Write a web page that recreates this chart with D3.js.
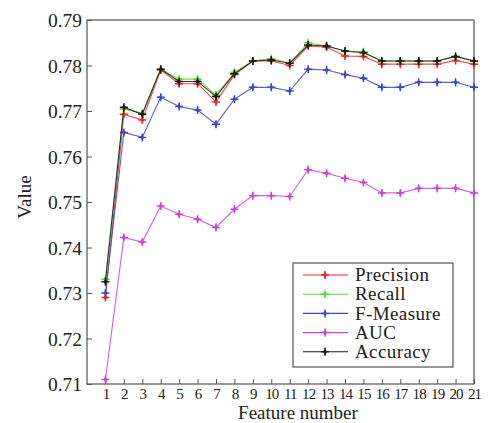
<!DOCTYPE html>
<head>
    <meta charset="utf-8">
    <script src="https://d3js.org/d3.v7.min.js"></script>
    <style>
        body { margin: 0; background: #fff; }
        text { font-family: "Liberation Serif", "Times New Roman", serif; fill: #222; }
    </style>
</head>
<body>
<svg width="488" height="423"></svg>
<script>
    var features = d3.range(1, 22);
    var yTicks = [0.71, 0.72, 0.73, 0.74, 0.75, 0.76, 0.77, 0.78, 0.79];

    var precision = [0.729, 0.7693, 0.768, 0.779, 0.776, 0.776, 0.772, 0.778, 0.781, 0.781, 0.780, 0.7843, 0.784, 0.7821, 0.782, 0.7803, 0.7803, 0.7803, 0.7803, 0.7811, 0.7803];
    var recall = [0.733, 0.7705, 0.7695, 0.7792, 0.777, 0.777, 0.7735, 0.7785, 0.781, 0.7815, 0.7805, 0.785, 0.7843, 0.7832, 0.783, 0.781, 0.781, 0.781, 0.781, 0.782, 0.781];
    var fmeasure = [0.730, 0.7653, 0.7642, 0.773, 0.771, 0.7702, 0.7671, 0.7726, 0.7752, 0.7752, 0.7744, 0.7792, 0.779, 0.778, 0.7772, 0.7752, 0.7752, 0.7763, 0.7763, 0.7763, 0.7752];
    var auc = [0.711, 0.7422, 0.7412, 0.7491, 0.7473, 0.7462, 0.7444, 0.7484, 0.7514, 0.7514, 0.7512, 0.7571, 0.7563, 0.7552, 0.7543, 0.752, 0.752, 0.753, 0.753, 0.753, 0.752];
    var accuracy = [0.7325, 0.7708, 0.7693, 0.7792, 0.7765, 0.7765, 0.7732, 0.7782, 0.781, 0.7812, 0.7805, 0.7845, 0.7843, 0.7832, 0.7828, 0.781, 0.781, 0.781, 0.781, 0.782, 0.781];

    var series = [
        {name: "Precision", values: precision, color: "#f0262b"},
        {name: "Recall", values: recall, color: "#55dd2a"},
        {name: "F-Measure", values: fmeasure, color: "#3a48c8"},
        {name: "AUC", values: auc, color: "#cc44d6"},
        {name: "Accuracy", values: accuracy, color: "#1a1a1a"}
    ];

    var svg = d3.select("svg"),
        pLeft = 87, pRight = 474, pTop = 20, pBottom = 384;

    var x = d3.scaleLinear().domain([0, 21]).range([pLeft, pRight]);
    var y = d3.scaleLinear().domain([0.71, 0.79]).range([pBottom, pTop]);

    // axes (ticks pointing inward, matlab style)
    svg.append("g")
        .attr("transform", "translate(0," + pBottom + ")")
        .call(d3.axisBottom(x).tickValues(features).tickSize(-5).tickPadding(4).tickFormat(d3.format("d")))
        .call(function (g) {
            g.select(".domain").remove();
            g.selectAll("line").attr("stroke", "#555");
            g.selectAll("text").attr("font-size", 15).attr("letter-spacing", -0.9).style("fill", "#222");
        });

    svg.append("g")
        .attr("transform", "translate(" + pLeft + ",0)")
        .call(d3.axisLeft(y).tickValues(yTicks).tickSize(-5).tickPadding(5).tickFormat(d3.format(".2f")))
        .call(function (g) {
            g.select(".domain").remove();
            g.selectAll("line").attr("stroke", "#555");
            g.selectAll("text").attr("font-size", 19.5).attr("dy", "0.34em").style("fill", "#222");
        });

    svg.append("rect")
        .attr("x", pLeft).attr("y", pTop)
        .attr("width", pRight - pLeft).attr("height", pBottom - pTop)
        .attr("fill", "none").attr("stroke", "#555").attr("stroke-width", 1.2);

    var line = d3.line()
        .x(function (d, i) { return x(features[i]); })
        .y(function (d) { return y(d); });

    function marker(sel, color) {
        sel.append("path")
            .attr("d", "M-4,0H4M0,-4V4")
            .attr("stroke", color).attr("stroke-width", 1.5);
        sel.append("path")
            .attr("d", d3.symbol(d3.symbolDiamond, 12))
            .attr("fill", color);
    }

    series.forEach(function (s) {
        var g = svg.append("g");
        g.append("path")
            .datum(s.values)
            .attr("d", line)
            .attr("fill", "none")
            .attr("stroke", s.color)
            .attr("stroke-width", 1.1)
            .attr("stroke-opacity", 0.85);
        g.selectAll("g")
            .data(s.values)
            .enter().append("g")
            .attr("transform", function (d, i) { return "translate(" + x(features[i]) + "," + y(d) + ")"; })
            .call(marker, s.color);
    });

    // legend
    var lg = svg.append("g").attr("transform", "translate(293,263)");
    lg.append("rect")
        .attr("width", 160).attr("height", 104)
        .attr("fill", "#fff").attr("stroke", "#555").attr("stroke-width", 1.2);
    series.forEach(function (s, i) {
        var row = lg.append("g").attr("transform", "translate(0," + (12 + i * 19.2) + ")");
        row.append("line")
            .attr("x1", 10).attr("x2", 55)
            .attr("stroke", s.color).attr("stroke-width", 1.1);
        row.append("g").attr("transform", "translate(32,0)").call(marker, s.color);
        row.append("text")
            .attr("x", 62).attr("dy", "0.33em")
            .attr("font-size", 19)
            .attr("letter-spacing", 0.4)
            .text(s.name);
    });

    svg.append("text")
        .attr("x", 298).attr("y", 419)
        .attr("text-anchor", "middle")
        .attr("font-size", 19)
        .text("Feature number");

    svg.append("text")
        .attr("transform", "translate(31," + 197 + ") rotate(-90)")
        .attr("text-anchor", "middle")
        .attr("font-size", 19)
        .text("Value");
</script>
</body>
